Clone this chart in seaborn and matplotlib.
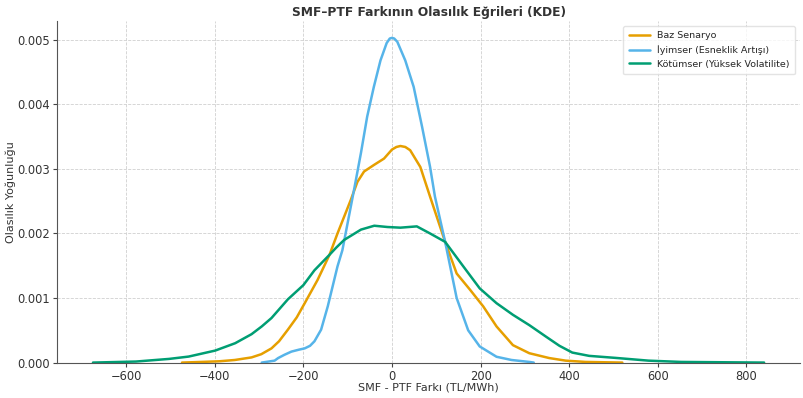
import matplotlib
matplotlib.use("Agg")
import matplotlib.pyplot as plt
import pandas as pd
import seaborn as sns

# density curves (x in TL/MWh, y = density)
baz_x = [-474, -430, -390, -355, -317, -295, -272, -255, -235, -215, -197, -168, -141, -123,
         -93, -78, -63, -41, -18, 0, 10, 19, 30, 41, 64, 86, 120, 146, 176, 206, 236, 273,
         310, 355, 392, 437, 520]
baz_y = [0, 0.00001, 0.00002, 0.00004, 0.00008, 0.00013, 0.00022, 0.00033, 0.00051, 0.0007,
         0.00092, 0.00128, 0.00167, 0.002, 0.00252, 0.0028, 0.00296, 0.00306, 0.00316, 0.0033,
         0.00334, 0.003355, 0.00334, 0.00329, 0.00303, 0.00257, 0.00187, 0.00138, 0.00113,
         0.00087, 0.00056, 0.00027, 0.000145, 0.00007, 0.00003, 0.00001, 0]

iyi_x = [-294, -265, -257, -243, -227, -210, -197, -185, -175, -160, -145, -134, -123, -112,
         -85, -70, -56, -41, -26, -12, -5, 0, 5, 12, 30, 49, 68, 86, 97, 120, 146, 172, 198,
         236, 270, 310, 320]
iyi_y = [0, 0.00003, 0.00007, 0.00012, 0.00017, 0.0002, 0.00022, 0.00026, 0.00033, 0.00051,
         0.00087, 0.00118, 0.00149, 0.00174, 0.0027, 0.00325, 0.00381, 0.00427, 0.00468,
         0.00495, 0.00502, 0.00503, 0.00502, 0.00497, 0.00468, 0.00427, 0.00365, 0.00303,
         0.00257, 0.00187, 0.001, 0.0005, 0.00025, 0.00009, 0.00004, 0.00001, 0]

kot_x = [-675, -578, -503, -459, -399, -354, -317, -294, -272, -235, -200, -175, -141, -126,
         -108, -70, -40, -10, 19, 56, 86, 120, 161, 198, 236, 273, 310, 348, 378, 407, 445,
         504, 579, 653, 840]
kot_y = [0, 0.000016, 0.000057, 0.000093, 0.000186, 0.0003, 0.00044, 0.00056, 0.00069,
         0.00098, 0.0012, 0.00143, 0.00167, 0.00178, 0.0019, 0.00206, 0.00212, 0.0021,
         0.00209, 0.00211, 0.002, 0.00187, 0.00149, 0.00115, 0.00092, 0.00074, 0.00058,
         0.0004, 0.00026, 0.000155, 0.000104, 0.000073, 0.00003, 0.00001, 0]

labels = ["Baz Senaryo", "İyimser (Esneklik Artışı)", "Kötümser (Yüksek Volatilite)"]
colours = {labels[0]: "#E69F00", labels[1]: "#56B4E9", labels[2]: "#009E73"}

df = pd.concat([
    pd.DataFrame({"x": baz_x, "y": baz_y, "senaryo": labels[0]}),
    pd.DataFrame({"x": iyi_x, "y": iyi_y, "senaryo": labels[1]}),
    pd.DataFrame({"x": kot_x, "y": kot_y, "senaryo": labels[2]}),
])

sns.set_style("ticks")
plt.rcParams["font.family"] = ["DejaVu Sans"]
plt.rcParams["font.size"] = 8

fig, ax = plt.subplots(figsize=(8.04, 3.98), dpi=100)
fig.subplots_adjust(left=0.071, right=0.995, bottom=0.089, top=0.947)

sns.lineplot(data=df, x="x", y="y", hue="senaryo", palette=colours, linewidth=1.8,
             hue_order=labels, estimator=None, sort=True, ax=ax)

ax.set_xlim(-756, 921)
ax.set_ylim(0, 0.00529)
ax.set_xticks([-600, -400, -200, 0, 200, 400, 600, 800])
ax.set_yticks([0, 0.001, 0.002, 0.003, 0.004, 0.005])
ax.set_yticklabels(["0.000", "0.001", "0.002", "0.003", "0.004", "0.005"])
ax.grid(True, linestyle="--", linewidth=0.6, color="#d0d0d0")
ax.tick_params(labelsize=8.3, length=3, pad=2, color="#444444", labelcolor="#333333")
for s in ["left", "bottom"]:
    ax.spines[s].set_color("#555555")
sns.despine(ax=ax)

ax.set_title("SMF–PTF Farkının Olasılık Eğrileri (KDE)", fontsize=8.8, fontweight="bold",
             color="#333333", pad=4)
ax.set_xlabel("SMF - PTF Farkı (TL/MWh)", fontsize=8, color="#333333", labelpad=0)
ax.set_ylabel("Olasılık Yoğunluğu", fontsize=8, color="#333333", labelpad=1)

leg = ax.legend(title=None, loc="upper right", fontsize=6.8, frameon=True,
                handlelength=2.2, borderpad=0.6)
leg.get_frame().set_edgecolor("#dddddd")

fig.savefig("out.png", dpi=100)
